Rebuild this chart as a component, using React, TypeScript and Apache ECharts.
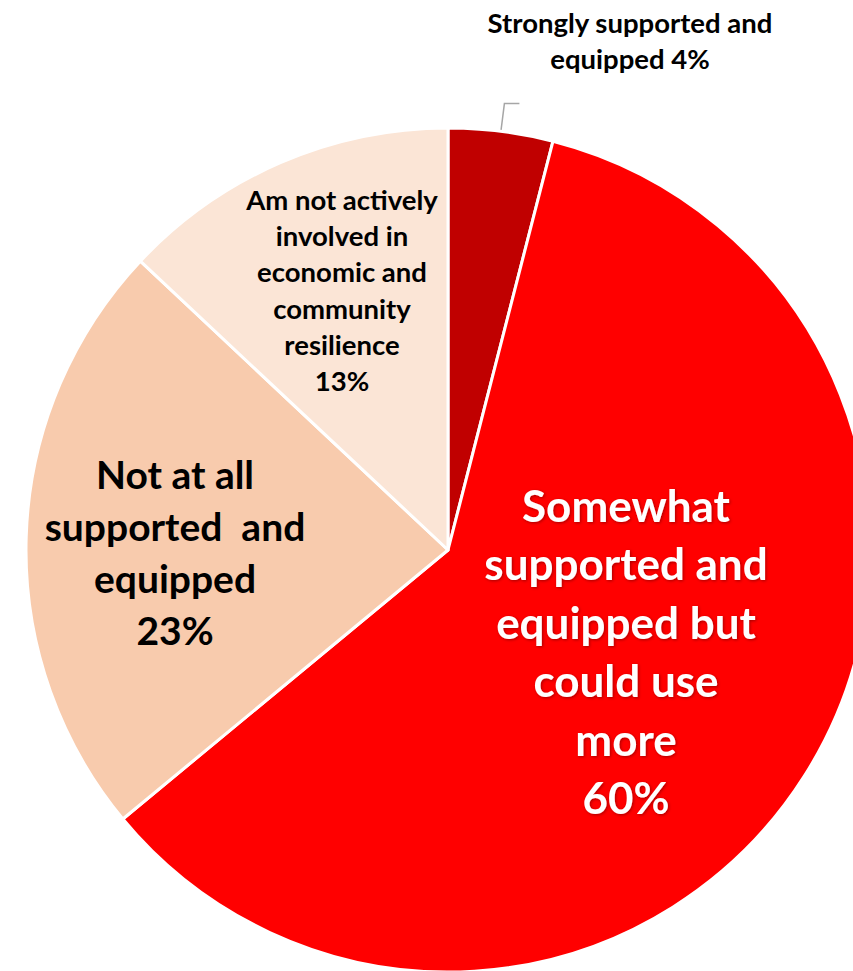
import React, { useEffect, useRef } from "react";
import * as echarts from "echarts";

const categories = [
  "Strongly supported and equipped",
  "Somewhat supported and equipped but could use more",
  "Not at all supported and equipped",
  "Am not actively involved in economic and community resilience",
];
const values = [4, 60, 23, 13];
const labelTexts = [
  "Strongly supported and\nequipped",
  "Somewhat\nsupported and\nequipped but\ncould use\nmore\n",
  "Not at all\nsupported  and\nequipped\n",
  "Am not actively\ninvolved in\neconomic and\ncommunity\nresilience\n",
];
const colors = ["#C00000", "#FF0000", "#F8CBAD", "#FBE5D6"];

export default function App() {
  const ref = useRef<HTMLDivElement>(null);
  useEffect(() => {
    if (!ref.current) return;
    const chart = echarts.init(ref.current, undefined, { renderer: "svg" });
    const labelPos = [
      [630, 40],
      [626, 651],
      [175, 552],
      [342, 290],
    ];
    const labelStyles: any[] = [
      { position: "outside", fontSize: 27.5, lineHeight: 36, color: "#000" },
      {
        position: "inside",
        fontSize: 44,
        lineHeight: 58.5,
        color: "#fff",
        textShadowColor: "rgba(0,0,0,0.35)",
        textShadowBlur: 3,
        textShadowOffsetX: 1,
        textShadowOffsetY: 1,
      },
      { position: "inside", fontSize: 39, lineHeight: 52, color: "#000" },
      { position: "inside", fontSize: 27.5, lineHeight: 36.3, color: "#000" },
    ];
    chart.setOption({
      animation: false,
      series: [
        {
          type: "pie",
          center: [448, 550],
          radius: 422,
          startAngle: 90,
          clockwise: true,
          avoidLabelOverlap: false,
          itemStyle: { borderColor: "#fff", borderWidth: 3 },
          label: {
            fontFamily: "Lato",
            fontWeight: "bold",
            align: "center",
            formatter: (p: any) => labelTexts[p.dataIndex] + (p.dataIndex === 0 ? " " : "") + p.value + "%",
          },
          labelLine: {
            show: true,
            length: 28,
            length2: 15,
            lineStyle: { color: "#A6A6A6", width: 1.5 },
          },
          labelLayout: (p: any) => {
            const pos = labelPos[p.dataIndex];
            const res: any = { x: pos[0], y: pos[1], align: "center", verticalAlign: "middle" };
            if (p.labelLinePoints) res.labelLinePoints = p.labelLinePoints;
            return res;
          },
          data: categories.map((name, i) => ({
            name,
            value: values[i],
            itemStyle: { color: colors[i] },
            label: labelStyles[i],
            labelLine: { show: i === 0 },
          })),
        },
      ],
    });
    return () => chart.dispose();
  }, []);
  return <div ref={ref} style={{ position: "absolute", left: 0, top: 0, width: 853, height: 971 }} />;
}
